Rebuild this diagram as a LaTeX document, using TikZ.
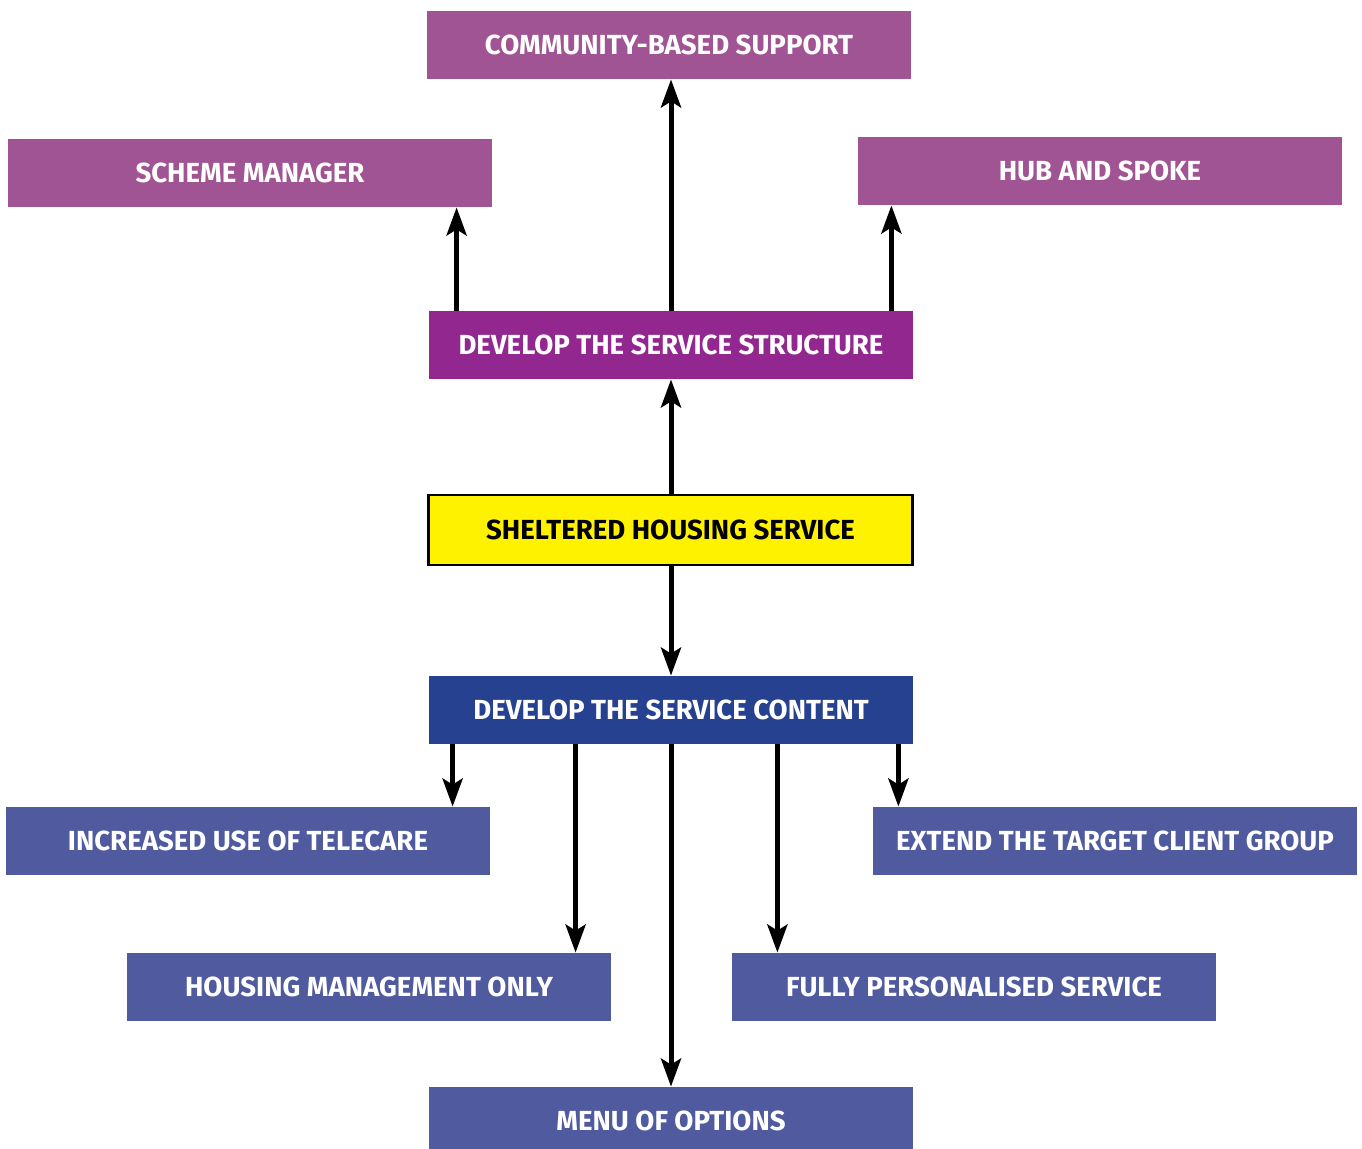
\documentclass[tikz,border=0pt]{standalone}
\usepackage{fontspec}
\setmainfont{Fira Sans}
\usepackage{tikz}
\usetikzlibrary{arrows.meta,positioning}

\definecolor{lilac}{HTML}{A05494}
\definecolor{plum}{HTML}{92278F}
\definecolor{navy}{HTML}{25418F}
\definecolor{slate}{HTML}{4F5A9F}
\definecolor{lemon}{HTML}{FFF200}

\begin{document}
\begin{tikzpicture}[x=0.5pt,y=-0.5pt,line cap=butt,
  box/.style={minimum width=242pt,minimum height=34pt,inner sep=0pt,
    text=white,font=\fontsize{13.8}{15}\selectfont\bfseries},
  arr/.style={line width=2.5pt,-{Stealth[length=14pt,width=10pt,inset=3pt]}}]
		\useasboundingbox (0,0) rectangle (1362,1148);
		
		\node[box,fill=lilac] (community) at (669,45) {COMMUNITY-BASED SUPPORT};
		\node[box,fill=lilac] (scheme) at (250,173) {SCHEME MANAGER};
		\node[box,fill=lilac] (hub) at (1100,171) {HUB AND SPOKE};
		\node[box,fill=plum] (structure) at (671,345) {DEVELOP THE SERVICE STRUCTURE};
		\node[box,fill=lemon,draw=black,line width=1.2pt,text=black,minimum height=35pt] (sheltered) at (670.5,530) {SHELTERED HOUSING SERVICE};
		\node[box,fill=navy] (content) at (671,710) {DEVELOP THE SERVICE CONTENT};
		\node[box,fill=slate] (telecare) at (248,841) {INCREASED USE OF TELECARE};
		\node[box,fill=slate] (extend) at (1115,841) {EXTEND THE TARGET CLIENT GROUP};
		\node[box,fill=slate] (housing) at (369,987) {HOUSING MANAGEMENT ONLY};
		\node[box,fill=slate] (fully) at (974,987) {FULLY PERSONALISED SERVICE};
		\node[box,fill=slate] (menu) at (671,1121) {MENU OF OPTIONS};
		
		% structure branches
		\draw[arr] (structure.north) -- (structure.north |- community.south);
		\draw[arr] (structure.north west) ++(28,0) coordinate (s1) -- (s1 |- scheme.south);
		\draw[arr] (structure.north east) ++(-22,0) coordinate (s2) -- (s2 |- hub.south);
		\draw[arr] (structure.south |- sheltered.north) -- (structure.south);
		\draw[arr] (content.north |- sheltered.south) -- (content.north);
		
		% content branches
		\draw[arr] (content.south west) ++(24,0) coordinate (c1) -- (c1 |- telecare.north);
		\draw[arr] (content.south west) ++(147,0) coordinate (c2) -- (c2 |- housing.north);
		\draw[arr] (content.south) -- (menu.north);
		\draw[arr] (content.south east) ++(-136,0) coordinate (c3) -- (c3 |- fully.north);
		\draw[arr] (content.south east) ++(-15,0) coordinate (c4) -- (c4 |- extend.north);
	\end{tikzpicture}
\end{document}
